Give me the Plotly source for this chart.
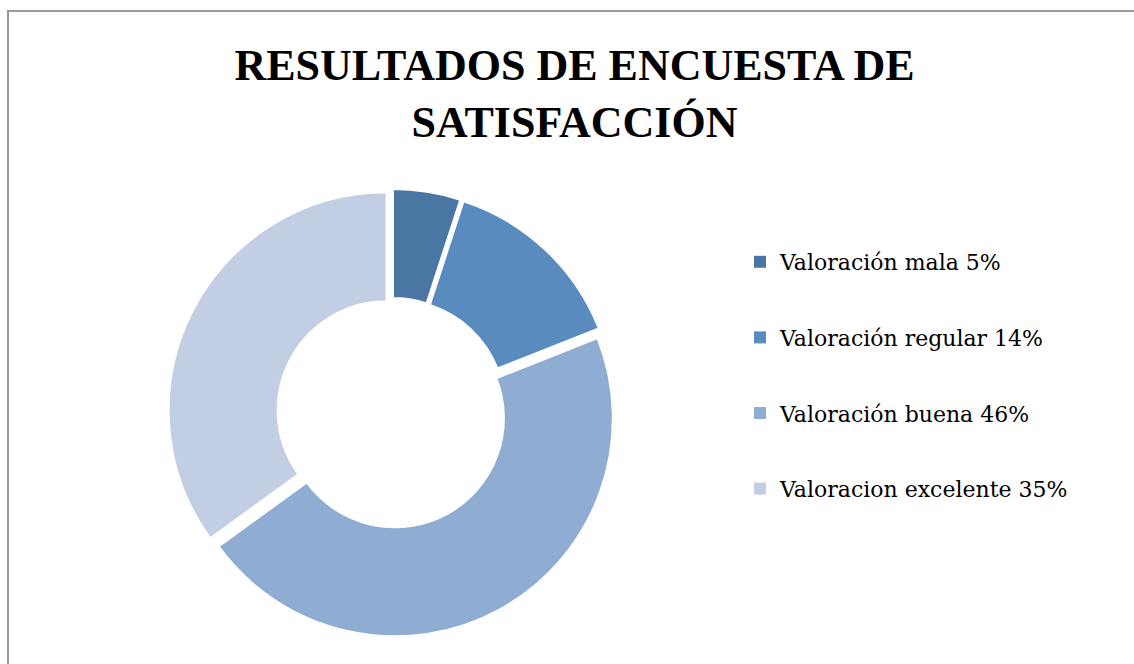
import plotly.graph_objects as go

# ---- data ----
categories = ["Valoración mala 5%", "Valoración regular 14%",
              "Valoración buena 46%", "Valoracion excelente 35%"]
values = [5, 14, 46, 35]
colors = ["#4A76A3", "#5A8BBF", "#8FADD2", "#C1CEE3"]
title_lines = ["RESULTADOS DE ENCUESTA DE", "SATISFACCIÓN"]

W, H = 1134, 664
cx, cy, R = 392, 413, 224  # donut centre (px) and half-size of its box incl. pull

fig = go.Figure()

fig.add_trace(go.Pie(
    labels=categories,
    values=values,
    sort=False,
    direction="clockwise",
    rotation=0,
    hole=0.5,
    pull=[0.028] * len(values),
    marker=dict(colors=colors, line=dict(color="white", width=2)),
    textinfo="none",
    hoverinfo="label+percent",
    showlegend=False,
    domain=dict(x=[(cx - R) / W, (cx + R) / W],
                y=[(H - cy - R) / H, (H - cy + R) / H]),
))

# legend entries (one per slice) so the entries can be spaced apart
for i, (lab, col) in enumerate(zip(categories, colors)):
    fig.add_trace(go.Scatter(
        x=[None], y=[None], mode="markers", name=lab,
        marker=dict(symbol="square", size=12, color=col),
        legendgroup=f"g{i}", showlegend=True, hoverinfo="skip",
    ))

fig.update_layout(
    width=W, height=H,
    margin=dict(l=0, r=0, t=0, b=0),
    paper_bgcolor="white", plot_bgcolor="white",
    xaxis=dict(visible=False), yaxis=dict(visible=False),
    title=dict(
        text="<br>".join(title_lines),
        font=dict(family="Liberation Serif", size=44, color="black", weight="bold"),
        x=574.5 / W, xanchor="center", xref="paper",
        y=1 - 80 / H, yanchor="top", yref="container",
    ),
    legend=dict(
        x=740 / W, xanchor="left",
        y=1 - 241 / H, yanchor="top",
        font=dict(family="DejaVu Serif", size=22, color="black"),
        traceorder="grouped", tracegroupgap=44,
        bgcolor="rgba(0,0,0,0)",
    ),
    shapes=[dict(
        type="rect", xref="paper", yref="paper",
        x0=8 / W, x1=1.05, y0=-0.05, y1=1 - 11 / H,
        line=dict(color="#9a9a9a", width=2), fillcolor="rgba(0,0,0,0)",
        layer="below",
    )],
)

fig.write_html("out.html")
